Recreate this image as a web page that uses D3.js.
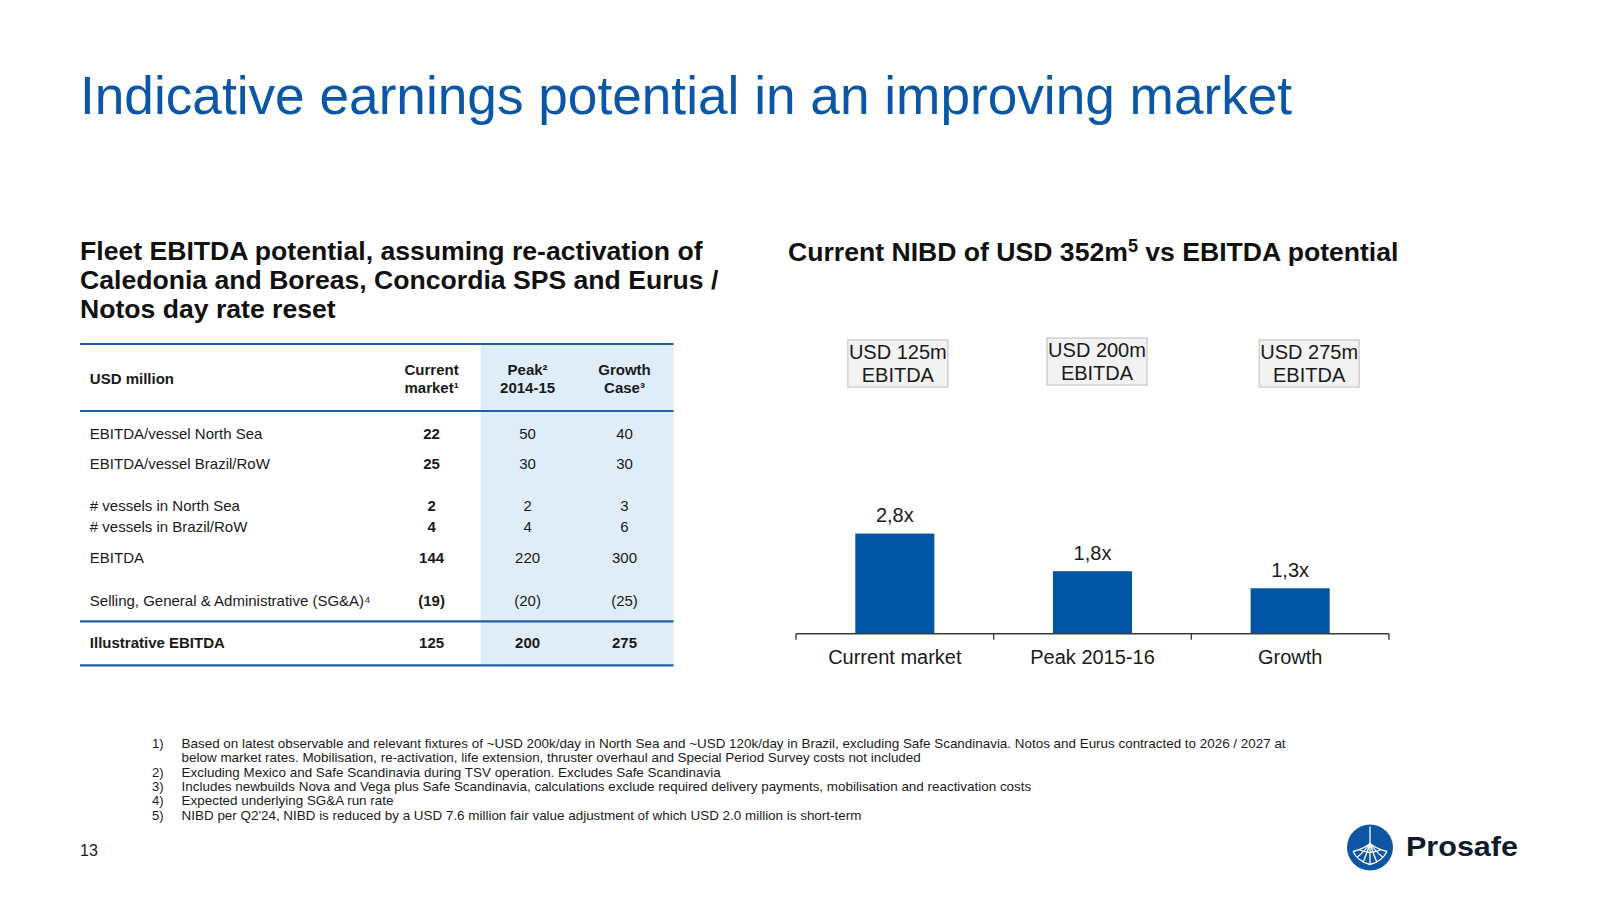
<!DOCTYPE html>
<html>
<head>
<meta charset="utf-8">
<script src="https://cdn.jsdelivr.net/npm/d3@7"></script>
<style>
  html, body { margin: 0; padding: 0; background: #fff; }
  svg { display: block; font-family: "Liberation Sans", Arial, sans-serif; }
</style>
</head>
<body>
<svg id="chart" width="1600" height="900"></svg>
<script>
// ---------- DATA ----------
const categories = ["Current market", "Peak 2015-16", "Growth"];
const nibdMultiple = [2.82, 1.76, 1.28];
const multipleLabels = ["2,8x", "1,8x", "1,3x"];
const ebitdaUsd = [125, 200, 275];

const rowLabels = [
  "EBITDA/vessel North Sea",
  "EBITDA/vessel Brazil/RoW",
  "# vessels in North Sea",
  "# vessels in Brazil/RoW",
  "EBITDA",
  "Selling, General & Administrative (SG&A)⁴",
  "Illustrative EBITDA"
];
const colCurrent = ["22", "25", "2", "4", "144", "(19)", "125"];
const colPeak = ["50", "30", "2", "4", "220", "(20)", "200"];
const colGrowth = ["40", "30", "3", "6", "300", "(25)", "275"];
const headerLines = [["Current", "market¹"], ["Peak²", "2014-15"], ["Growth", "Case³"]];

const footnotes = [
  ["1)", "Based on latest observable and relevant fixtures of ~USD 200k/day in North Sea and ~USD 120k/day in Brazil, excluding Safe Scandinavia. Notos and Eurus contracted to 2026 / 2027 at"],
  ["", "below market rates. Mobilisation, re-activation, life extension, thruster overhaul and Special Period Survey costs not included"],
  ["2)", "Excluding Mexico and Safe Scandinavia during TSV operation. Excludes Safe Scandinavia"],
  ["3)", "Includes newbuilds Nova and Vega plus Safe Scandinavia, calculations exclude required delivery payments, mobilisation and reactivation costs"],
  ["4)", "Expected underlying SG&A run rate"],
  ["5)", "NIBD per Q2'24, NIBD is reduced by a USD 7.6 million fair value adjustment of which USD 2.0 million is short-term"]
];

// ---------- STYLE ----------
const BLUE = "#0b57a5";
const BAR = "#0055a4";
const LINE = "#1f5fa8";
const SHADE = "#dfedf9";
const INK = "#1a1a1a";

const svg = d3.select("#chart");

// ---------- TITLES ----------
svg.append("text").attr("x", 80).attr("y", 114)
  .attr("font-size", 53.2).attr("fill", BLUE)
  .text("Indicative earnings potential in an improving market");

const subLines = ["Fleet EBITDA potential, assuming re-activation of",
  "Caledonia and Boreas, Concordia SPS and Eurus /", "Notos day rate reset"];
svg.append("g").selectAll("text").data(subLines).join("text")
  .attr("x", 80).attr("y", (d, i) => 260 + i * 29)
  .attr("font-size", 26.6).attr("font-weight", "bold").attr("fill", "#111")
  .text(d => d);

const rt = svg.append("text").attr("x", 788).attr("y", 261)
  .attr("font-size", 26.6).attr("font-weight", "bold").attr("fill", "#111");
rt.append("tspan").text("Current NIBD of USD 352m");
rt.append("tspan").attr("font-size", 18).attr("dy", -9).text("5");
rt.append("tspan").attr("dy", 9).text(" vs EBITDA potential");

// ---------- TABLE ----------
const tbl = svg.append("g");
const tLeft = 80, tRight = 673.5;
const colX = [431.6, 527.6, 624.5];
const rowY = [438.8, 469.4, 511.2, 531.6, 563.3, 606.1, 648];

tbl.append("rect").attr("x", 480.6).attr("y", 344).attr("width", tRight - 480.6).attr("height", 665.3 - 344)
  .attr("fill", SHADE);

[344, 411, 621.4, 665.3].forEach(y => {
  tbl.append("line").attr("x1", tLeft).attr("x2", tRight).attr("y1", y).attr("y2", y)
    .attr("stroke", LINE).attr("stroke-width", 2.2);
});

tbl.append("text").attr("x", 89.8).attr("y", 383.7).attr("font-size", 15)
  .attr("font-weight", "bold").attr("fill", INK).text("USD million");

headerLines.forEach((lines, c) => {
  lines.forEach((t, j) => {
    tbl.append("text").attr("x", colX[c]).attr("y", 375 + j * 18.3)
      .attr("text-anchor", "middle").attr("font-size", 15).attr("font-weight", "bold")
      .attr("fill", INK).text(t);
  });
});

const last = rowLabels.length - 1;
tbl.append("g").selectAll("text").data(rowLabels).join("text")
  .attr("x", 89.8).attr("y", (d, i) => rowY[i]).attr("font-size", 15)
  .attr("font-weight", (d, i) => i === last ? "bold" : "normal")
  .attr("fill", INK).text(d => d);

[colCurrent, colPeak, colGrowth].forEach((col, c) => {
  tbl.append("g").selectAll("text").data(col).join("text")
    .attr("x", colX[c]).attr("y", (d, i) => rowY[i]).attr("text-anchor", "middle")
    .attr("font-size", 15)
    .attr("font-weight", (d, i) => (c === 0 || i === last) ? "bold" : "normal")
    .attr("fill", INK).text(d => d);
});

// ---------- BAR CHART ----------
const baseY = 633.7;
const x = d3.scaleBand().domain(categories).range([796, 1389]).paddingInner(0.6).paddingOuter(0.3);
const y = d3.scaleLinear().domain([0, 3]).range([baseY, baseY - 3 * 35.5]);

const chart = svg.append("g");
chart.selectAll("rect.bar").data(categories).join("rect").attr("class", "bar")
  .attr("x", d => x(d)).attr("width", x.bandwidth())
  .attr("y", (d, i) => y(nibdMultiple[i])).attr("height", (d, i) => baseY - y(nibdMultiple[i]))
  .attr("fill", BAR);

chart.selectAll("text.val").data(categories).join("text").attr("class", "val")
  .attr("x", d => x(d) + x.bandwidth() / 2).attr("y", (d, i) => y(nibdMultiple[i]) - 11.5)
  .attr("text-anchor", "middle").attr("font-size", 20).attr("fill", INK)
  .text((d, i) => multipleLabels[i]);

// category labels via axis
const ax = chart.append("g").attr("transform", `translate(0,${baseY})`)
  .call(d3.axisBottom(x).tickSize(0).tickPadding(16));
ax.select(".domain").remove();
ax.selectAll("text").attr("font-size", 20).attr("fill", INK)
  .attr("font-family", "Liberation Sans, Arial, sans-serif");

// baseline with boundary ticks
const [r0, r1] = x.range();
const bounds = d3.range(categories.length + 1).map(i => r0 + i * x.step());
chart.append("line").attr("x1", r0).attr("x2", r1).attr("y1", baseY).attr("y2", baseY)
  .attr("stroke", "#3a3a3a").attr("stroke-width", 1.4);
chart.selectAll("line.tk").data(bounds).join("line").attr("class", "tk")
  .attr("x1", d => d).attr("x2", d => d).attr("y1", baseY).attr("y2", baseY + 6)
  .attr("stroke", "#3a3a3a").attr("stroke-width", 1.4);

// EBITDA boxes
const boxDx = [3, 4.5, 19];
const boxTop = [340, 338, 340];
const boxW = 100, boxH = 47;
categories.forEach((c, i) => {
  const cx = x(c) + x.bandwidth() / 2 + boxDx[i];
  chart.append("rect").attr("x", cx - boxW / 2).attr("y", boxTop[i]).attr("width", boxW).attr("height", boxH)
    .attr("fill", "#f2f2f2").attr("stroke", "#c6c6c6").attr("stroke-width", 1.2);
  chart.append("text").attr("x", cx).attr("y", boxTop[i] + 19).attr("text-anchor", "middle")
    .attr("font-size", 20).attr("fill", INK).text(`USD ${ebitdaUsd[i]}m`);
  chart.append("text").attr("x", cx).attr("y", boxTop[i] + 42).attr("text-anchor", "middle")
    .attr("font-size", 20).attr("fill", INK).text("EBITDA");
});

// ---------- FOOTNOTES ----------
const fn = svg.append("g");
const fnTexts = [];
footnotes.forEach((f, i) => {
  const yy = 748 + i * 14.3;
  fn.append("text").attr("x", 152).attr("y", yy).attr("font-size", 13).attr("fill", INK).text(f[0]);
  fnTexts.push(fn.append("text").attr("x", 181.6).attr("y", yy).attr("font-size", 13).attr("fill", INK).text(f[1]));
});
const w0 = fnTexts[0].node().getComputedTextLength();
const k = 1104 / w0;
fnTexts.forEach(t => {
  const w = t.node().getComputedTextLength();
  t.attr("textLength", w * k).attr("lengthAdjust", "spacingAndGlyphs");
});

// ---------- PAGE NUMBER & LOGO ----------
svg.append("text").attr("x", 80).attr("y", 856).attr("font-size", 16).attr("fill", INK).text("13");

const logo = svg.append("g").attr("transform", "translate(1370,847.5)");
logo.append("circle").attr("r", 23).attr("fill", "#0e55a2");
const wl = logo.append("g").attr("fill", "none").attr("stroke", "#fff").attr("stroke-width", 1.3);
wl.append("line").attr("x1", 0).attr("y1", -21).attr("x2", 0).attr("y2", -4);
const tips = [[-17, 4], [-13, 10], [-7, 15], [0, 17], [7, 15], [13, 10], [17, 4]];
tips.forEach(([tx, ty]) => {
  wl.append("path").attr("d", `M0,-4 Q${tx * 0.3},${ty * 0.2} ${tx},${ty}`);
});
wl.append("path").attr("d", "M-17,4 Q-12,14 0,17 Q12,14 17,4");
wl.append("path").attr("d", "M-11,2 Q0,8 11,2");
logo.append("text").attr("x", 36).attr("y", 8).attr("font-size", 28).attr("font-weight", "bold")
  .attr("fill", "#0d1b2a").attr("textLength", 112).attr("lengthAdjust", "spacingAndGlyphs").text("Prosafe");
</script>
</body>
</html>
